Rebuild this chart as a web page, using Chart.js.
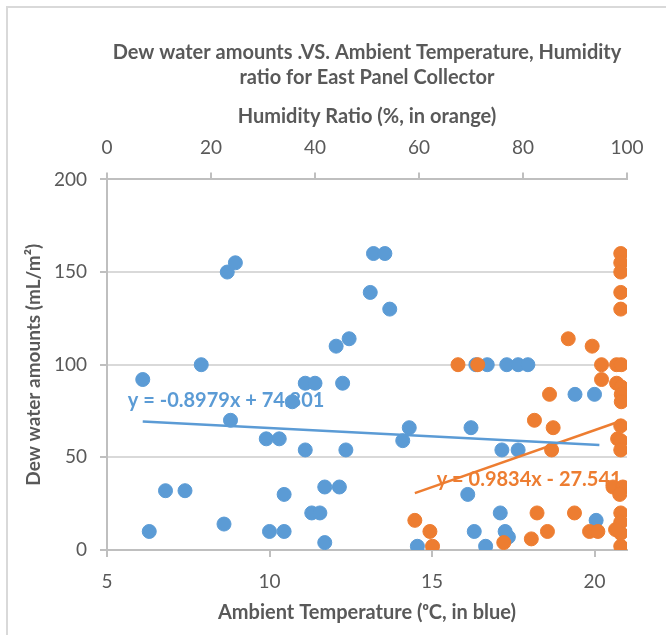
<!DOCTYPE html>
<html>
<head>
<meta charset="utf-8">
<script src="https://cdn.jsdelivr.net/npm/chart.js@4.4.1/dist/chart.umd.min.js"></script>
<style>
  body { margin: 0; background: #fff; }
  #wrap { position: relative; width: 666px; height: 635px; overflow: hidden; }
  #frame { position: absolute; left: 6px; top: 6px; width: 700px; height: 700px;
           border-left: 2px solid #d9d9d9; border-top: 2px solid #d9d9d9; }
  #chart { position: absolute; left: 0; top: 0; }
</style>
</head>
<body>
<div id="wrap">
  <div id="frame"></div>
  <canvas id="chart" width="666" height="635"></canvas>
</div>
<script>
// blue: dew water vs ambient temperature (bottom axis)
const tempBlue = [6.1, 6.3, 6.8, 7.4, 7.9, 8.6, 8.8, 8.7, 8.95, 9.9, 10.3, 10.0, 10.45, 10.45, 10.7,
    11.1, 11.4, 11.1, 11.3, 11.55, 11.7, 11.7, 12.15, 12.25, 12.35, 12.05, 12.45, 13.1, 13.2, 13.55,
    13.7, 14.1, 14.3, 16.2, 16.35, 16.7, 17.3, 17.65, 17.95, 19.4, 20.0, 17.15, 17.65, 16.1, 17.1,
    16.3, 17.25, 17.35, 14.55, 16.65, 20.05];
const dewBlue = [92, 10, 32, 32, 100, 14, 70, 150, 155, 60, 60, 10, 10, 30, 80,
    90, 90, 54, 20, 20, 34, 4, 34, 90, 54, 110, 114, 139, 160, 160,
    130, 59, 66, 66, 100, 100, 100, 100, 100, 84, 84, 54, 54, 30, 20,
    10, 10, 7, 2, 2, 16];

// orange: dew water vs humidity ratio (top axis)
const humOrange = [67.5, 71.3, 88.7, 93.3, 95.1, 98, 98.9, 95.1, 98, 98.9, 98.9, 98.9, 85.1,
    98.8, 98.8, 98.8, 98.8, 98.8, 82.2, 85.8, 85.5, 98.8, 98.2, 98.8, 98.8, 97.3, 99.2, 98.6,
    98.8, 98.8, 98.8, 97.8, 98.8, 89.9, 92.8, 94.4, 59.2, 62.1, 62.6, 76.3, 81.6, 84.7, 82.7];
const dewOrange = [100, 100, 114, 110, 100, 100, 100, 92, 90, 88, 84, 80, 84,
    160, 155, 150, 139, 130, 70, 66, 54, 67, 60, 59, 54, 34, 34, 30,
    20, 15, 9, 11, 2, 20, 10, 10, 16, 10, 2, 4, 6, 10, 20];

// linear trendlines (end points)
const blueTrendX = [6.1, 20.15];
const blueTrendY = [69.3, 56.7];
const orangeTrendX = [59.2, 98.8];
const orangeTrendY = [30.7, 69.6];

const tempTicks = [5, 10, 15, 20];

const blueEq = "y = -0.8979x + 74.801";
const orangeEq = "y = 0.9834x - 27.541";

const titleLines = ["Dew water amounts .VS. Ambient Temperature, Humidity", "ratio for East Panel Collector"];

const BLUE = "#5b9bd5";
const ORANGE = "#ed7d31";
const GREY = "#595959";
const FONT = "Lato";

function pts(xs, ys) {
    return xs.map((x, i) => ({ x: x, y: ys[i] }));
}

// trendline equations, drawn under the marks
const eqLabels = {
    id: "eqLabels",
    beforeDatasetsDraw(chart) {
        const { ctx, scales } = chart;
        ctx.save();
        ctx.font = "bold 20px " + FONT;
        ctx.textBaseline = "middle";
        ctx.textAlign = "left";
        ctx.fillStyle = BLUE;
        ctx.fillText(blueEq, scales.x.getPixelForValue(5.64), scales.y.getPixelForValue(80.4));
        ctx.fillStyle = ORANGE;
        ctx.fillText(orangeEq, scales.x2.getPixelForValue(63.4), scales.y.getPixelForValue(37.8));
        ctx.restore();
    }
};

const tickFont = { family: FONT, size: 19 };
const axisTitleFont = { family: FONT, size: 20, weight: "bold" };

new Chart(document.getElementById("chart"), {
    type: "scatter",
    data: {
        datasets: [
            {
                label: "Temperature",
                data: pts(tempBlue, dewBlue),
                xAxisID: "x",
                backgroundColor: BLUE,
                borderColor: BLUE,
                pointRadius: 7,
                order: 3
            },
            {
                label: "Humidity",
                data: pts(humOrange, dewOrange),
                xAxisID: "x2",
                backgroundColor: ORANGE,
                borderColor: ORANGE,
                pointRadius: 7,
                order: 2
            },
            {
                type: "line",
                data: pts(blueTrendX, blueTrendY),
                xAxisID: "x",
                borderColor: BLUE,
                borderWidth: 2.5,
                pointRadius: 0,
                order: 1
            },
            {
                type: "line",
                data: pts(orangeTrendX, orangeTrendY),
                xAxisID: "x2",
                borderColor: ORANGE,
                borderWidth: 2.5,
                pointRadius: 0,
                order: 1
            }
        ]
    },
    options: {
        responsive: false,
        animation: false,
        layout: { padding: { left: 0, right: 39, top: 0, bottom: 0 } },
        plugins: {
            legend: { display: false },
            tooltip: { enabled: false },
            title: {
                display: true,
                fullSize: false,
                text: titleLines,
                color: GREY,
                font: { family: FONT, size: 20, weight: "bold", lineHeight: 1.26 },
                padding: { top: 40, bottom: 0 }
            }
        },
        scales: {
            x: {
                type: "linear",
                position: "bottom",
                min: 5,
                max: 21,
                afterBuildTicks: (s) => { s.ticks = tempTicks.map(v => ({ value: v })); },
                afterFit: (s) => { s.height = 85; },
                ticks: { color: GREY, font: tickFont, padding: 13 },
                grid: { drawOnChartArea: false, drawTicks: true, tickLength: 7, color: "#bfbfbf", lineWidth: 2 },
                border: { color: "#bfbfbf", width: 2 },
                title: { display: true, text: "Ambient Temperature (ᵒC, in blue)", color: GREY,
                         font: axisTitleFont, padding: { top: 0, bottom: 10 } }
            },
            x2: {
                type: "linear",
                position: "top",
                min: 0,
                max: 100,
                afterFit: (s) => { s.height = 89; },
                ticks: { stepSize: 20, color: GREY, font: tickFont, padding: 13 },
                grid: { drawOnChartArea: false, drawTicks: true, tickLength: 7, color: "#bfbfbf", lineWidth: 2 },
                border: { color: "#bfbfbf", width: 2 },
                title: { display: true, text: "Humidity Ratio (%, in orange)", color: GREY,
                         font: axisTitleFont, padding: { top: 14, bottom: 0 } }
            },
            y: {
                min: 0,
                max: 200,
                afterFit: (s) => { s.width = 107; },
                ticks: { stepSize: 50, color: GREY, font: tickFont, padding: 13 },
                grid: { color: "#d9d9d9", lineWidth: 2, tickLength: 7, tickColor: "#bfbfbf" },
                border: { color: "#bfbfbf", width: 2 },
                title: { display: true, text: "Dew water amounts (mL/m²)", color: GREY,
                         font: { family: FONT, size: 19, weight: "bold" }, padding: { top: 22, bottom: 0 } }
            }
        }
    },
    plugins: [eqLabels]
});
</script>
</body>
</html>
